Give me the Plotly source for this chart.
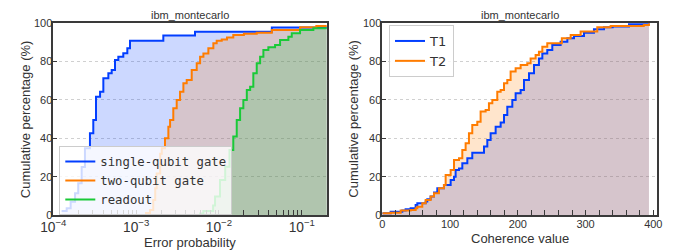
import plotly.graph_objects as go

# ---------------- data ----------------
# Left panel: cumulative percentage vs error probability (step CDFs)
sq_x = [1.26e-4, 1.45e-4, 1.62e-4, 1.83e-4, 2.0e-4, 2.2e-4, 2.41e-4, 2.77e-4, 3.04e-4,
        3.28e-4, 3.67e-4, 4.02e-4, 4.62e-4, 5.07e-4, 5.56e-4, 6.1e-4, 7.0e-4, 7.83e-4,
        8.44e-4, 2.13e-3, 5.14e-3, 0.0435, 0.3]
sq_y = [2.1, 3.5, 6.9, 11.3, 16.5, 25.0, 34.8, 42.6, 49.6,
        61.7, 64.3, 71.3, 73.9, 75.7, 80.9, 82.6, 84.4, 87.0,
        90.9, 93.6, 95.6, 97.8, 100.0]

tq_x = [1.28e-3, 1.47e-3, 1.61e-3, 1.70e-3, 1.77e-3, 1.95e-3, 2.04e-3, 2.23e-3, 2.45e-3,
        2.57e-3, 2.81e-3, 3.09e-3, 3.39e-3, 3.72e-3, 4.08e-3, 4.69e-3, 5.39e-3, 5.92e-3,
        6.49e-3, 7.45e-3, 8.56e-3, 9.39e-3, 0.0108, 0.0125, 0.0149, 0.0200, 0.0286,
        0.0435, 0.0955, 0.15, 0.3]
tq_y = [1.0, 2.6, 7.8, 14.0, 21.7, 32.0, 34.8, 40.0, 46.1,
        49.6, 55.7, 60.0, 64.3, 68.7, 70.4, 75.6, 79.1, 82.6,
        84.3, 87.0, 89.6, 90.9, 91.6, 92.6, 93.9, 94.5, 95.1,
        96.5, 97.9, 98.6, 100.0]

ro_x = [5.79e-3, 6.48e-3, 8.5e-3, 8.97e-3, 0.0103, 0.0119, 0.0134, 0.0149, 0.0164,
        0.0180, 0.0197, 0.0217, 0.0238, 0.0260, 0.0286, 0.0314, 0.0344, 0.0395,
        0.0476, 0.0547, 0.0689, 0.0757, 0.0953, 0.138, 0.3]
ro_y = [0.8, 2.1, 5.0, 9.6, 18.3, 25.2, 33.9, 40.9, 49.6,
        55.7, 60.0, 65.2, 66.9, 73.9, 79.1, 82.6, 86.1, 87.5,
        88.7, 91.3, 93.0, 94.8, 96.5, 97.4, 100.0]

# Right panel: cumulative percentage vs coherence value
t1_x = [0, 12.3, 29.5, 34.4, 41.8, 49.2, 51.7, 64, 66.4, 71.3, 76.3, 81.2, 91, 100.9,
        105.8, 108.2, 113.2, 118.1, 125.5, 132.8, 150.1, 155, 159.9, 167.3, 174.7,
        179.6, 184.5, 191.9, 196.8, 204.2, 209.1, 216.5, 223.9, 231.2, 236.2, 243.5,
        250.9, 263.2, 273.1, 282.9, 297.7, 312.4, 327.2, 340, 364.1, 393.6]
t1_y = [0.9, 1.7, 2.3, 3.0, 3.5, 5.2, 6.1, 7.0, 8.2, 9.6, 11.7, 13.9, 15.7, 18.3,
        20.0, 23.5, 24.3, 27.0, 29.6, 32.5, 35.7, 39.1, 42.6, 46.1, 48.2,
        52.2, 56.5, 60.0, 63.5, 65.2, 70.4, 73.9, 78.3, 81.7, 84.3, 86.1,
        88.7, 90.4, 92.2, 93.4, 95.1, 96.9, 97.9, 98.3, 99.7, 100.0]

t2_x = [0, 12.3, 27.1, 41.8, 49.2, 51.7, 59, 64, 71.3, 76.3, 83.6, 91, 93.5, 100.9,
        105.8, 113.2, 118.1, 123, 127.9, 132.8, 140.2, 145.1, 152.5, 157.4, 162.4,
        169.7, 174.7, 179.6, 184.5, 189.4, 196.8, 204.2, 214, 218.9, 226.3, 231.2,
        236.2, 243.5, 265, 278, 292.7, 317.3, 337, 386, 393.6]
t2_y = [0.9, 1.2, 2.3, 2.6, 3.5, 4.3, 6.1, 7.8, 9.6, 11.3, 13.9, 15.7, 20.9, 23.5,
        28.7, 29.6, 33.9, 37.4, 42.6, 47.0, 48.7, 54.0, 54.8, 58.3, 60.0,
        64.3, 65.2, 68.7, 70.4, 74.8, 76.5, 78.3, 79.1, 81.7, 83.5, 85.2,
        87.8, 89.6, 92.2, 93.9, 95.7, 97.9, 98.6, 99.1, 100.0]

left_names = ["single-qubit gate", "two-qubit gate", "readout"]
right_names = ["T1", "T2"]
title_text = "ibm_montecarlo"
left_xlabel = "Error probability"
right_xlabel = "Coherence value"
ylabel = "Cumulative percentage (%)"

# ---------------- styling ----------------
BLUE, ORANGE, GREEN = "#023eff", "#ff7c00", "#1ac938"
TEXT = "#333333"
FRAME = "#3a3a3a"
OFF = 8                       # page body margin in the browser
W, H = 688 - OFF, 252 - OFF


def fx(px):
    return (px - OFF) / W


def fy(py):
    return 1 - (py - OFF) / H


def rgba(h, a):
    h = h.lstrip("#")
    return "rgba(%d,%d,%d,%.2f)" % (int(h[0:2], 16), int(h[2:4], 16), int(h[4:6], 16), a)


fig = go.Figure()

left = [(sq_x, sq_y, BLUE, left_names[0]), (tq_x, tq_y, ORANGE, left_names[1]),
        (ro_x, ro_y, GREEN, left_names[2])]
right = [(t1_x, t1_y, BLUE, right_names[0]), (t2_x, t2_y, ORANGE, right_names[1])]

for xs, ys, c, n in left:
    fig.add_trace(go.Scatter(x=xs, y=ys, mode="lines", line=dict(width=0, shape="hv"),
                             fill="tozeroy", fillcolor=rgba(c, 0.2), showlegend=False,
                             hoverinfo="skip", xaxis="x", yaxis="y"))
for xs, ys, c, n in right:
    fig.add_trace(go.Scatter(x=xs, y=ys, mode="lines", line=dict(width=0, shape="hv"),
                             fill="tozeroy", fillcolor=rgba(c, 0.2), showlegend=False,
                             hoverinfo="skip", xaxis="x2", yaxis="y2"))
for xs, ys, c, n in left:
    fig.add_trace(go.Scatter(x=xs, y=ys, mode="lines", name=n,
                             line=dict(color=c, width=2, shape="hv"),
                             xaxis="x", yaxis="y", legend="legend"))
for xs, ys, c, n in right:
    fig.add_trace(go.Scatter(x=xs, y=ys, mode="lines", name=n,
                             line=dict(color=c, width=2, shape="hv"),
                             xaxis="x2", yaxis="y2", legend="legend2"))

ydom = [fy(215), fy(23.3)]
xdom1 = [fx(53.3), fx(326.7)]
xdom2 = [fx(382.3), fx(657.3)]

common_axis = dict(showline=True, mirror=True, linecolor=FRAME, linewidth=1.6,
                   ticks="inside", ticklen=5, tickcolor=FRAME, tickwidth=1,
                   tickfont=dict(family="Liberation Sans", size=11, color=TEXT),
                   zeroline=False, automargin=False)

yaxis_common = dict(common_axis, range=[0, 100], tickvals=[0, 20, 40, 60, 80, 100],
                    ticklen=4, showgrid=True, gridcolor="#d0d0d0", griddash="dot",
                    gridwidth=1, domain=ydom, ticklabelstandoff=-3)

lab_font = dict(family="Liberation Sans", size=13, color=TEXT)
ttl_font = dict(family="Liberation Sans", size=11, color=TEXT)

fig.update_layout(
    width=W, height=H, margin=dict(l=0, r=0, t=0, b=0),
    paper_bgcolor="white", plot_bgcolor="white",
    xaxis=dict(common_axis, type="log", range=[-4, -0.699], domain=xdom1,
               dtick=1, exponentformat="power", showgrid=False, ticklabelstandoff=-1,
               minor=dict(ticks="inside", ticklen=5, tickcolor=FRAME, dtick="D1",
                          showgrid=False),
               anchor="y"),
    yaxis=dict(yaxis_common, anchor="x"),
    xaxis2=dict(common_axis, range=[0, 405.9], domain=xdom2, dtick=100, showgrid=False,
                ticklabelstandoff=-2,
                minor=dict(ticks="inside", ticklen=5, tickcolor=FRAME, dtick=20,
                           showgrid=False),
                anchor="y2"),
    yaxis2=dict(yaxis_common, anchor="x2"),
    legend=dict(x=fx(59.3), y=fy(146), xanchor="left", yanchor="top",
                bgcolor="rgba(255,255,255,0.8)", bordercolor="#cccccc", borderwidth=1,
                font=dict(family="DejaVu Sans Mono", size=12.3, color=TEXT),
                tracegroupgap=0),
    legend2=dict(x=fx(389), y=fy(25), xanchor="left", yanchor="top",
                 bgcolor="rgba(255,255,255,0.8)", bordercolor="#cccccc", borderwidth=1,
                 font=dict(family="DejaVu Sans", size=13, color=TEXT),
                 tracegroupgap=0),
    annotations=[
        dict(text=title_text, x=(xdom1[0] + xdom1[1]) / 2, y=fy(15), xref="paper",
             yref="paper", showarrow=False, xanchor="center", yanchor="middle",
             font=ttl_font),
        dict(text=title_text, x=(xdom2[0] + xdom2[1]) / 2, y=fy(15), xref="paper",
             yref="paper", showarrow=False, xanchor="center", yanchor="middle",
             font=ttl_font),
        dict(text=left_xlabel, x=(xdom1[0] + xdom1[1]) / 2, y=fy(242.5), xref="paper",
             yref="paper", showarrow=False, xanchor="center", yanchor="middle",
             font=lab_font),
        dict(text=right_xlabel, x=(xdom2[0] + xdom2[1]) / 2, y=fy(238.5), xref="paper",
             yref="paper", showarrow=False, xanchor="center", yanchor="middle",
             font=lab_font),
        dict(text=ylabel, x=fx(25), y=(ydom[0] + ydom[1]) / 2, xref="paper",
             yref="paper", showarrow=False, xanchor="center", yanchor="middle",
             textangle=-90, font=lab_font),
        dict(text=ylabel, x=fx(353.5), y=(ydom[0] + ydom[1]) / 2, xref="paper",
             yref="paper", showarrow=False, xanchor="center", yanchor="middle",
             textangle=-90, font=lab_font),
    ],
)

fig.write_html("out.html")
